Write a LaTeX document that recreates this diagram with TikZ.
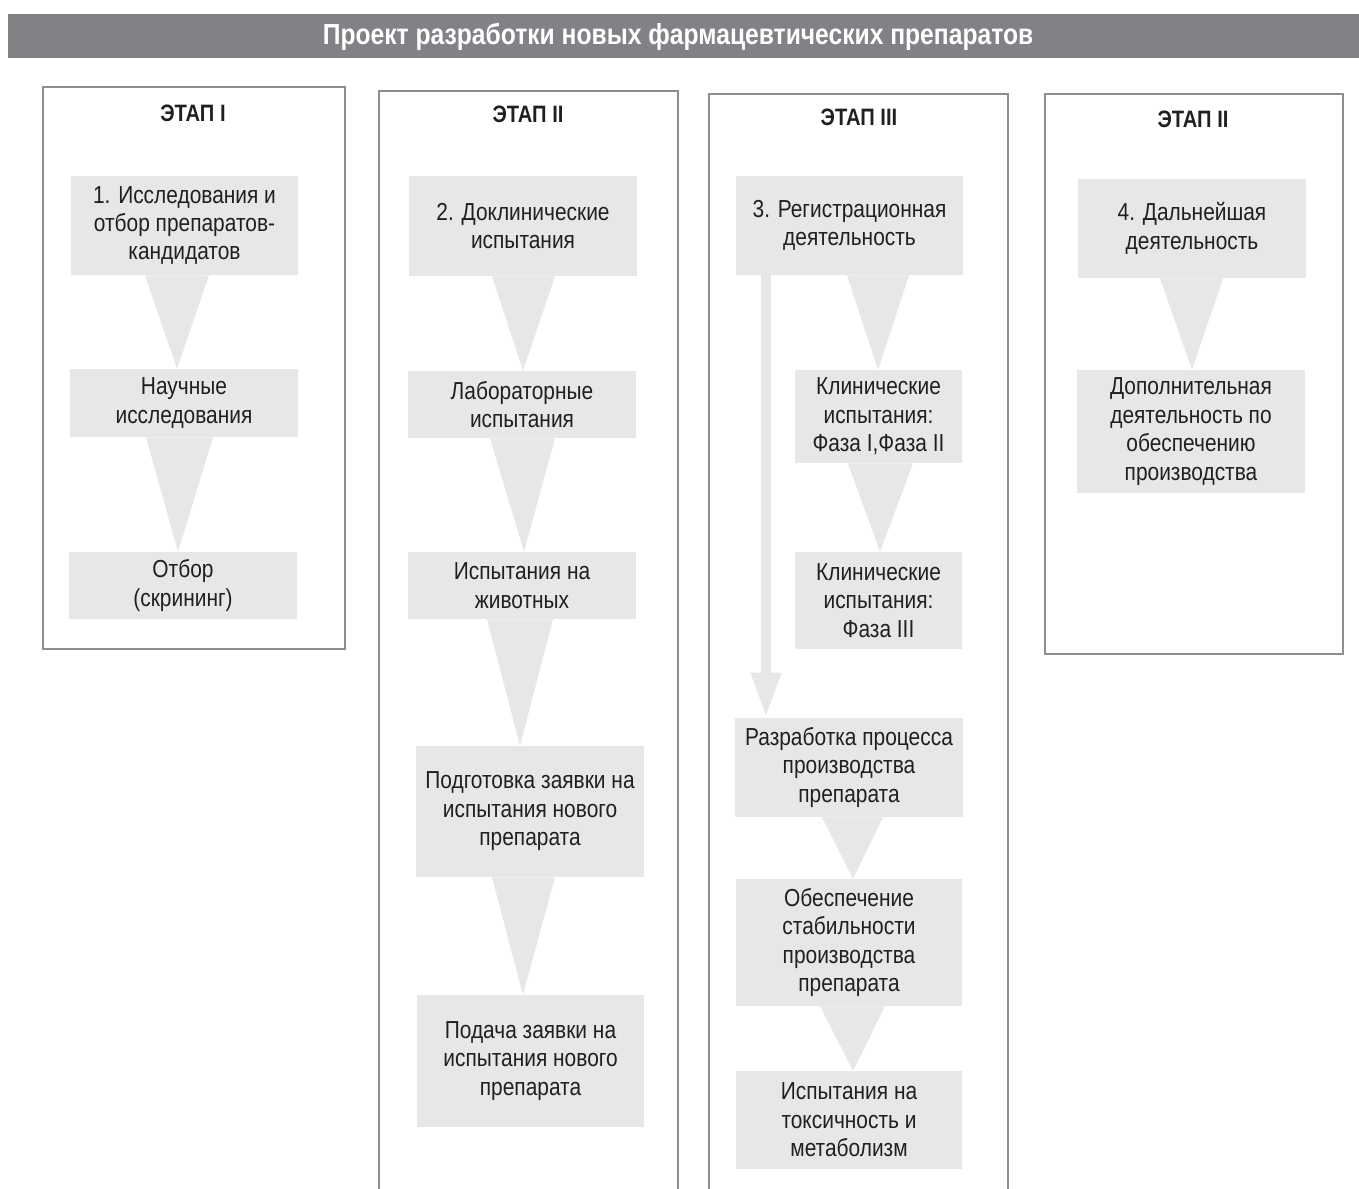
\documentclass[tikz,border=0pt]{standalone}
\usepackage{fontspec}
\setmainfont{Liberation Sans}[FakeStretch=0.85]
\usepackage{xcolor}
\usepackage{tikz}
\usetikzlibrary{positioning}
\usetikzlibrary{calc}
\usetikzlibrary{arrows.meta}

\definecolor{boxgray}{HTML}{E6E7E8}
\definecolor{bargray}{HTML}{808285}
\definecolor{framegray}{HTML}{8E8E8E}
\definecolor{inkgray}{HTML}{231F20}

\tikzset{
  stage/.style={draw=framegray,line width=0.85pt},
  stagehead/.style={text=inkgray,font=\bfseries\fontsize{13.5}{15}\selectfont},
  task/.style={fill=boxgray,inner sep=0pt,align=center,text=inkgray,
               font=\fontsize{14}{16.2}\selectfont},
  funnel/.style={fill=boxgray},
  regarrow/.style={draw=boxgray,line width=0.2cm,-{Triangle[width=0.56cm,length=0.9cm]}}
}

\begin{document}
\begin{tikzpicture}[x=0.02cm,y=-0.02cm]
\useasboundingbox (0,0) rectangle (1359,1189);

% title bar
\fill[bargray] (8,14) rectangle (1359,58);
\node[text=white,font=\bfseries\fontsize{16.5}{18}\selectfont] (title) at (678,37)
  {Проект разработки новых фармацевтических препаратов};

% stage frames
\draw[stage] (43,87) rectangle (345,649);
\draw[stage] (379,1195) |- (678,91) -- (678,1195);
\draw[stage] (709,1195) |- (1008,94) -- (1008,1195);
\draw[stage] (1045,94) rectangle (1343,654);

\node[stagehead] (h1) at (193,113) {ЭТАП I};
\node[stagehead] (h2) at (528,114) {ЭТАП II};
\node[stagehead] (h3) at (859,117) {ЭТАП III};
\node[stagehead] (h4) at (1193,119) {ЭТАП II};

% stage I
\node[task,minimum width=4.54cm,minimum height=1.98cm] (res)  at (184.5,225.5) {1. Исследования и\\отбор препаратов-\\кандидатов};
\node[task,minimum width=4.56cm,minimum height=1.36cm] (sci)  at (184,403)     {Научные\\исследования};
\node[task,minimum width=4.56cm,minimum height=1.34cm] (scr)  at (183,585.5)   {Отбор\\(скрининг)};

% stage II
\node[task,minimum width=4.56cm,minimum height=2.00cm] (pre)  at (523,226)     {2. Доклинические\\испытания};
\node[task,minimum width=4.56cm,minimum height=1.34cm] (lab)  at (522,404.5)   {Лабораторные\\испытания};
\node[task,minimum width=4.56cm,minimum height=1.34cm] (ani)  at (522,585.5)   {Испытания на\\животных};
\node[task,minimum width=4.56cm,minimum height=2.62cm] (prep) at (530,811.5)   {Подготовка заявки на\\испытания нового\\препарата};
\node[task,minimum width=4.56cm,minimum height=2.64cm] (subm) at (530.5,1061)  {Подача заявки на\\испытания нового\\препарата};

% stage III
\node[task,minimum width=4.54cm,minimum height=1.98cm] (reg)  at (849.5,225.5) {3. Регистрационная\\деятельность};
\node[task,minimum width=3.34cm,minimum height=1.86cm] (ph12) at (878.5,416.5) {Клинические\\испытания:\\Фаза I,Фаза II};
\node[task,minimum width=3.34cm,minimum height=1.94cm] (ph3)  at (878.5,600.5) {Клинические\\испытания:\\Фаза III};
\node[task,minimum width=4.56cm,minimum height=1.98cm] (proc) at (849,767.5)   {Разработка процесса\\производства\\препарата};
\node[task,minimum width=4.52cm,minimum height=2.54cm] (stab) at (849,942.5)   {Обеспечение\\стабильности\\производства\\препарата};
\node[task,minimum width=4.52cm,minimum height=1.96cm] (tox)  at (849,1120)    {Испытания на\\токсичность и\\метаболизм};

% stage IV
\node[task,minimum width=4.56cm,minimum height=1.98cm] (fur)  at (1192,228.5)  {4. Дальнейшая\\деятельность};
\node[task,minimum width=4.56cm,minimum height=2.46cm] (add)  at (1191,431.5)  {Дополнительная\\деятельность по\\обеспечению\\производства};

% funnels
\fill[funnel] (res.south -| 145,0)  -- (res.south -| 209,0)  -- (sci.north -| 177,0)  -- cycle;
\fill[funnel] (sci.south -| 146,0)  -- (sci.south -| 213,0)  -- (scr.north -| 178,0)  -- cycle;
\fill[funnel] (pre.south -| 492,0)  -- (pre.south -| 555,0)  -- (lab.north -| 523,0)  -- cycle;
\fill[funnel] (lab.south -| 490,0)  -- (lab.south -| 555,0)  -- (ani.north -| 524,0)  -- cycle;
\fill[funnel] (ani.south -| 487,0)  -- (ani.south -| 553,0)  -- (prep.north -| 520,0) -- cycle;
\fill[funnel] (prep.south -| 492,0) -- (prep.south -| 555,0) -- (subm.north -| 523,0) -- cycle;
\fill[funnel] (reg.south -| 847,0)  -- (reg.south -| 909,0)  -- (ph12.north -| 878,0) -- cycle;
\fill[funnel] (ph12.south -| 848,0) -- (ph12.south -| 913,0) -- (ph3.north -| 880,0)  -- cycle;
\fill[funnel] (proc.south -| 822,0) -- (proc.south -| 883,0) -- (stab.north -| 853,0) -- cycle;
\fill[funnel] (stab.south -| 820,0) -- (stab.south -| 885,0) -- (tox.north -| 853,0)  -- cycle;
\fill[funnel] (fur.south -| 1160,0) -- (fur.south -| 1223,0) -- (add.north -| 1192,0) -- cycle;

% registration bypass
\draw[regarrow] (reg.south -| 766,0) -- (proc.north -| 766,0);

\end{tikzpicture}
\end{document}
